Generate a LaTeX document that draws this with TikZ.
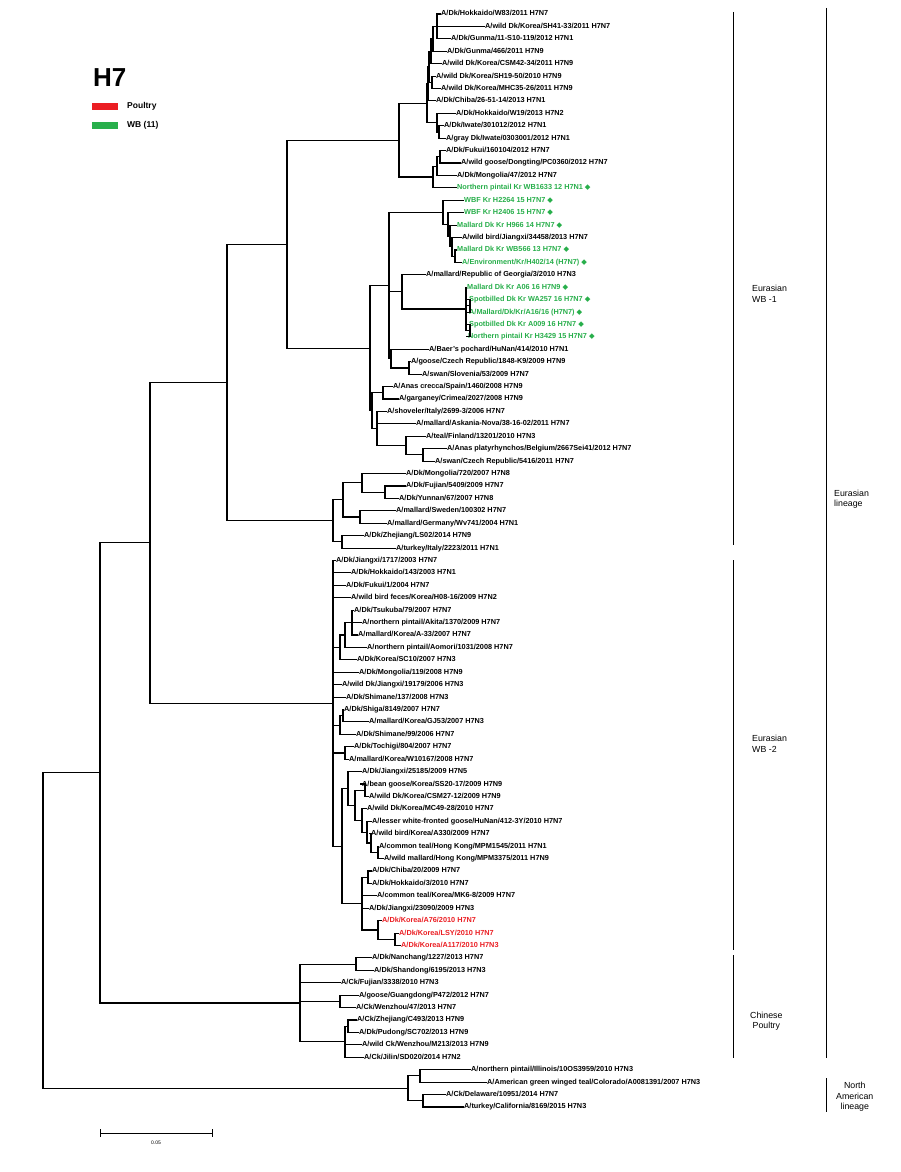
\documentclass[tikz,border=0pt]{standalone}
\usepackage{fontspec}
\setmainfont{Liberation Sans}
\newfontfamily\djv{DejaVu Sans}
\usetikzlibrary{calc}
\definecolor{wbg}{RGB}{40,175,75}
\definecolor{plr}{RGB}{235,30,35}
\tikzset{
  br/.style={line width=1.1pt, line cap=rect},
  leaf/.style={anchor=west, inner sep=1pt, font=\fontsize{7.3}{8}\selectfont\bfseries, text height=5.2pt, text depth=1.3pt},
  brk/.style={line width=0.8pt},
  blab/.style={font=\fontsize{8.8}{10.5}\selectfont, align=left, anchor=west, inner sep=0pt}
}
\newcommand\lf[4][black]{\node[leaf,text=#1] (L#2) at (#3,{14+(#2-1)*12.42}) {#4};}
\newcommand\cl[4]{\path let \p1=(#3), \p2=(#4) in coordinate (#1) at (#2pt,{(\y1+\y2)/2});}
\newcommand\kids[2]{\foreach \ch in {#2}{\draw[br] (#1) |- (\ch);}}
\newcommand\mk{\ {\djv\mdseries ◆}}
\begin{document}
\begin{tikzpicture}[x=1pt,y=-1pt]
\fill[white] (0,0) rectangle (901,1172);
\useasboundingbox (0,0) rectangle (901,1172);
% legend
\node[font=\fontsize{26}{28}\selectfont\bfseries, anchor=west, inner sep=0pt] (h7) at (93,78) {H7};
\fill[plr] (92,103) rectangle (118,110);
\fill[wbg] (92,122) rectangle (118,129);
\node[leaf, font=\fontsize{8.5}{9}\selectfont\bfseries] (lp) at (126,106.5) {Poultry};
\node[leaf, font=\fontsize{8.5}{9}\selectfont\bfseries] (lw) at (126,125.5) {WB (11)};
% leaves
\lf{1}{440}{A/Dk/Hokkaido/W83/2011 H7N7}
\lf{2}{484}{A/wild Dk/Korea/SH41-33/2011 H7N7}
\lf{3}{450}{A/Dk/Gunma/11-S10-119/2012 H7N1}
\lf{4}{446}{A/Dk/Gunma/466/2011 H7N9}
\lf{5}{441}{A/wild Dk/Korea/CSM42-34/2011 H7N9}
\lf{6}{435}{A/wild Dk/Korea/SH19-50/2010 H7N9}
\lf{7}{440}{A/wild Dk/Korea/MHC35-26/2011 H7N9}
\lf{8}{435}{A/Dk/Chiba/26-51-14/2013 H7N1}
\lf{9}{455}{A/Dk/Hokkaido/W19/2013 H7N2}
\lf{10}{443}{A/Dk/Iwate/301012/2012 H7N1}
\lf{11}{445}{A/gray Dk/Iwate/0303001/2012 H7N1}
\lf{12}{445}{A/Dk/Fukui/160104/2012 H7N7}
\lf{13}{460}{A/wild goose/Dongting/PC0360/2012 H7N7}
\lf{14}{456}{A/Dk/Mongolia/47/2012 H7N7}
\lf[wbg]{15}{456}{Northern pintail Kr WB1633 12 H7N1\mk}
\lf[wbg]{16}{463}{WBF Kr H2264 15 H7N7\mk}
\lf[wbg]{17}{463}{WBF Kr H2406 15 H7N7\mk}
\lf[wbg]{18}{456}{Mallard Dk Kr H966 14 H7N7\mk}
\lf{19}{461}{A/wild bird/Jiangxi/34458/2013 H7N7}
\lf[wbg]{20}{456}{Mallard Dk Kr WB566 13 H7N7\mk}
\lf[wbg]{21}{461}{A/Environment/Kr/H402/14 (H7N7)\mk}
\lf{22}{425}{A/mallard/Republic of Georgia/3/2010 H7N3}
\lf[wbg]{23}{466}{Mallard Dk Kr A06 16 H7N9\mk}
\lf[wbg]{24}{468}{Spotbilled Dk Kr WA257 16 H7N7\mk}
\lf[wbg]{25}{468}{A/Mallard/Dk/Kr/A16/16 (H7N7)\mk}
\lf[wbg]{26}{468}{Spotbilled Dk Kr A009 16 H7N7\mk}
\lf[wbg]{27}{467}{Northern pintail Kr H3429 15 H7N7\mk}
\lf{28}{428}{A/Baer's pochard/HuNan/414/2010 H7N1}
\lf{29}{410}{A/goose/Czech Republic/1848-K9/2009 H7N9}
\lf{30}{421}{A/swan/Slovenia/53/2009 H7N7}
\lf{31}{392}{A/Anas crecca/Spain/1460/2008 H7N9}
\lf{32}{398}{A/garganey/Crimea/2027/2008 H7N9}
\lf{33}{386}{A/shoveler/Italy/2699-3/2006 H7N7}
\lf{34}{415}{A/mallard/Askania-Nova/38-16-02/2011 H7N7}
\lf{35}{425}{A/teal/Finland/13201/2010 H7N3}
\lf{36}{446}{A/Anas platyrhynchos/Belgium/2667Sei41/2012 H7N7}
\lf{37}{434}{A/swan/Czech Republic/5416/2011 H7N7}
\lf{38}{405}{A/Dk/Mongolia/720/2007 H7N8}
\lf{39}{405}{A/Dk/Fujian/5409/2009 H7N7}
\lf{40}{398}{A/Dk/Yunnan/67/2007 H7N8}
\lf{41}{395}{A/mallard/Sweden/100302 H7N7}
\lf{42}{386}{A/mallard/Germany/Wv741/2004 H7N1}
\lf{43}{363}{A/Dk/Zhejiang/LS02/2014 H7N9}
\lf{44}{395}{A/turkey/Italy/2223/2011 H7N1}
\lf{45}{335}{A/Dk/Jiangxi/1717/2003 H7N7}
\lf{46}{350}{A/Dk/Hokkaido/143/2003 H7N1}
\lf{47}{345}{A/Dk/Fukui/1/2004 H7N7}
\lf{48}{350}{A/wild bird feces/Korea/H08-16/2009 H7N2}
\lf{49}{353}{A/Dk/Tsukuba/79/2007 H7N7}
\lf{50}{361}{A/northern pintail/Akita/1370/2009 H7N7}
\lf{51}{357}{A/mallard/Korea/A-33/2007 H7N7}
\lf{52}{366}{A/northern pintail/Aomori/1031/2008 H7N7}
\lf{53}{356}{A/Dk/Korea/SC10/2007 H7N3}
\lf{54}{358}{A/Dk/Mongolia/119/2008 H7N9}
\lf{55}{341}{A/wild Dk/Jiangxi/19179/2006 H7N3}
\lf{56}{345}{A/Dk/Shimane/137/2008 H7N3}
\lf{57}{343}{A/Dk/Shiga/8149/2007 H7N7}
\lf{58}{368}{A/mallard/Korea/GJ53/2007 H7N3}
\lf{59}{355}{A/Dk/Shimane/99/2006 H7N7}
\lf{60}{353}{A/Dk/Tochigi/804/2007 H7N7}
\lf{61}{348}{A/mallard/Korea/W10167/2008 H7N7}
\lf{62}{361}{A/Dk/Jiangxi/25185/2009 H7N5}
\lf{63}{361}{A/bean goose/Korea/SS20-17/2009 H7N9}
\lf{64}{368}{A/wild Dk/Korea/CSM27-12/2009 H7N9}
\lf{65}{366}{A/wild Dk/Korea/MC49-28/2010 H7N7}
\lf{66}{371}{A/lesser white-fronted goose/HuNan/412-3Y/2010 H7N7}
\lf{67}{370}{A/wild bird/Korea/A330/2009 H7N7}
\lf{68}{378}{A/common teal/Hong Kong/MPM1545/2011 H7N1}
\lf{69}{383}{A/wild mallard/Hong Kong/MPM3375/2011 H7N9}
\lf{70}{371}{A/Dk/Chiba/20/2009 H7N7}
\lf{71}{371}{A/Dk/Hokkaido/3/2010 H7N7}
\lf{72}{376}{A/common teal/Korea/MK6-8/2009 H7N7}
\lf{73}{368}{A/Dk/Jiangxi/23090/2009 H7N3}
\lf[plr]{74}{381}{A/Dk/Korea/A76/2010 H7N7}
\lf[plr]{75}{398}{A/Dk/Korea/LSY/2010 H7N7}
\lf[plr]{76}{400}{A/Dk/Korea/A117/2010 H7N3}
\lf{77}{371}{A/Dk/Nanchang/1227/2013 H7N7}
\lf{78}{373}{A/Dk/Shandong/6195/2013 H7N3}
\lf{79}{340}{A/Ck/Fujian/3338/2010 H7N3}
\lf{80}{358}{A/goose/Guangdong/P472/2012 H7N7}
\lf{81}{355}{A/Ck/Wenzhou/47/2013 H7N7}
\lf{82}{356}{A/Ck/Zhejiang/C493/2013 H7N9}
\lf{83}{358}{A/Dk/Pudong/SC702/2013 H7N9}
\lf{84}{361}{A/wild Ck/Wenzhou/M213/2013 H7N9}
\lf{85}{363}{A/Ck/Jilin/SD020/2014 H7N2}
\lf{86}{470}{A/northern pintail/Illinois/10OS3959/2010 H7N3}
\lf{87}{486}{A/American green winged teal/Colorado/A0081391/2007 H7N3}
\lf{88}{445}{A/Ck/Delaware/10951/2014 H7N7}
\lf{89}{463}{A/turkey/California/8169/2015 H7N3}
% internal nodes, WB-1
\cl{a1}{437}{L1}{L3}\kids{a1}{L1,L2,L3}
\cl{c1}{433}{a1}{L4}\kids{c1}{a1,L4}
\cl{c2}{431}{c1}{L5}\kids{c2}{c1,L5}
\cl{c3}{432}{L6}{L7}\kids{c3}{L6,L7}
\cl{c4}{429}{c2}{c3}\kids{c4}{c2,c3}
\cl{c5}{428}{c4}{L8}\kids{c5}{c4,L8}
\cl{b1}{439}{L10}{L11}\kids{b1}{L10,L11}
\cl{b2}{437}{L9}{b1}\kids{b2}{L9,b1}
\cl{c6}{427}{c5}{b2}\kids{c6}{c5,b2}
\cl{d1}{440}{L12}{L13}\kids{d1}{L12,L13}
\cl{d2}{437}{d1}{L14}\kids{d2}{d1,L14}
\cl{d3}{433}{d2}{L15}\kids{d3}{d2,L15}
\cl{T}{399}{c6}{d3}\kids{T}{c6,d3}
\cl{e1}{455}{L20}{L21}\kids{e1}{L20,L21}
\cl{e2}{452}{L19}{e1}\kids{e2}{L19,e1}
\cl{e3}{450}{L18}{e2}\kids{e3}{L18,e2}
\cl{e4}{448}{L17}{e3}\kids{e4}{L17,e3}
\cl{e5}{443}{L16}{e4}\kids{e5}{L16,e4}
\cl{h1}{470}{L24}{L25}\kids{h1}{L24,L25}
\cl{h2}{470}{L26}{L27}\kids{h2}{L26,L27}
\cl{H}{466}{L23}{h2}\kids{H}{L23,h1,h2}
\cl{G}{402}{L22}{H}\kids{G}{L22,H}
\cl{k1}{409}{L29}{L30}\kids{k1}{L29,L30}
\cl{K}{391}{L28}{k1}\kids{K}{L28,k1}
\cl{J}{389}{e5}{K}\kids{J}{e5,G,K}
\cl{n31}{383}{L31}{L32}\kids{n31}{L31,L32}
\cl{q1}{423}{L36}{L37}\kids{q1}{L36,L37}
\cl{q2}{406}{L35}{q1}\kids{q2}{L35,q1}
\cl{P}{377}{L33}{q2}\kids{P}{L33,L34,q2}
\cl{R}{372}{n31}{P}\kids{R}{n31,P}
\cl{M}{370}{J}{R}\kids{M}{J,R}
\cl{X1}{287}{T}{M}\kids{X1}{T,M}
\cl{s2}{385}{L39}{L40}\kids{s2}{L39,L40}
\cl{s1}{362}{L38}{s2}\kids{s1}{L38,s2}
\cl{u}{360}{L41}{L42}\kids{u}{L41,L42}
\cl{t}{343}{s1}{u}\kids{t}{s1,u}
\cl{w}{342}{L43}{L44}\kids{w}{L43,L44}
\cl{v}{333}{t}{w}\kids{v}{t,w}
\cl{W1}{227}{X1}{v}\kids{W1}{X1,v}
% WB-2
\cl{x1}{352}{L49}{L51}\kids{x1}{L49,L50,L51}
\cl{x2}{345}{x1}{L52}\kids{x2}{x1,L52}
\cl{x3}{340}{x2}{L53}\kids{x3}{x2,L53}
\cl{y1}{343}{L57}{L58}\kids{y1}{L57,L58}
\cl{y2}{340}{y1}{L59}\kids{y2}{y1,L59}
\cl{y3}{345}{L60}{L61}\kids{y3}{L60,L61}
\cl{z1}{365}{L63}{L64}\kids{z1}{L63,L64}
\cl{z2}{378}{L68}{L69}\kids{z2}{L68,L69}
\cl{z3}{371}{L67}{z2}\kids{z3}{L67,z2}
\cl{z4}{367}{L66}{z3}\kids{z4}{L66,z3}
\cl{z5}{362}{L65}{z4}\kids{z5}{L65,z4}
\cl{z6}{355}{z1}{z5}\kids{z6}{z1,z5}
\cl{z7}{348}{L62}{z6}\kids{z7}{L62,z6}
\cl{o1}{368}{L70}{L71}\kids{o1}{L70,L71}
\cl{r1}{395}{L75}{L76}\kids{r1}{L75,L76}
\cl{r2}{378}{L74}{r1}\kids{r2}{L74,r1}
\cl{o2}{362}{o1}{r2}\kids{o2}{o1,L72,L73,r2}
\cl{o3}{342}{z7}{o2}\kids{o3}{z7,o2}
\cl{sp}{333}{L45}{o3}\kids{sp}{L45,L46,L47,L48,x3,L54,L55,L56,y2,y3,o3}
% Chinese poultry
\cl{cp1}{356}{L77}{L78}\kids{cp1}{L77,L78}
\cl{cp2}{340}{L80}{L81}\kids{cp2}{L80,L81}
\cl{cp3a}{348}{L82}{L83}\kids{cp3a}{L82,L83}
\cl{cp3}{345}{cp3a}{L85}\kids{cp3}{cp3a,L84,L85}
\cl{cp}{300}{cp1}{cp3}\kids{cp}{cp1,L79,cp2,cp3}
% Eurasian lineage
\cl{WW}{150}{W1}{sp}\kids{WW}{W1,sp}
\cl{E}{100}{WW}{cp}\kids{E}{WW,cp}
% North America
\cl{na1}{420}{L86}{L87}\kids{na1}{L86,L87}
\cl{na2}{423}{L88}{L89}\kids{na2}{L88,L89}
\cl{NA}{408}{na1}{na2}\kids{NA}{na1,na2}
\cl{root}{43}{E}{NA}\kids{root}{E,NA}
% brackets
\draw[brk] (733,12) coordinate (b1t) -- (733,545) coordinate (b1b);
\draw[brk] (733,560) coordinate (b2t) -- (733,950) coordinate (b2b);
\draw[brk] (733,955) coordinate (b3t) -- (733,1058) coordinate (b3b);
\draw[brk] (826,8) coordinate (b4t) -- (826,1058) coordinate (b4b);
\draw[brk] (826,1078) coordinate (b5t) -- (826,1112) coordinate (b5b);
\node[blab] (t1) at (752,294) {Eurasian\\WB -1};
\node[blab] (t2) at (752,744) {Eurasian\\WB -2};
\node[blab, align=center] (t3) at (750,1021) {Chinese\\Poultry};
\node[blab] (t4) at (834,499) {Eurasian\\lineage};
\node[blab, align=center] (t5) at (836,1097) {North\\American\\lineage};
% scale bar
\draw[line width=0.8pt] (100,1133) coordinate (sb1) -- (212,1133) coordinate (sb2);
\draw[line width=0.8pt] (100,1129) -- (100,1137) (212,1129) -- (212,1137);
\node[font=\fontsize{5}{6}\selectfont, inner sep=0pt] (sbl) at (156,1143) {0.05};
\end{tikzpicture}
\end{document}
